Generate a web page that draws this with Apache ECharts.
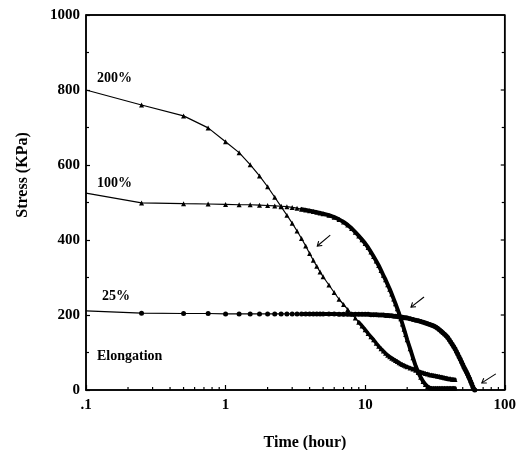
<!DOCTYPE html>
<html><head><meta charset="utf-8">
<script src="https://cdn.jsdelivr.net/npm/echarts@6/dist/echarts.min.js"></script>
<style>html,body{margin:0;padding:0;background:#fff}#c{width:519px;height:450px}</style>
</head><body><div id="c"></div>
<script>
// ---- data (time in hours, stress in KPa) ----
const times = [0.1, 0.25, 0.5, 0.75, 1, 1.25, 1.5, 1.75, 2, 2.25, 2.5, 2.75, 3, 3.25, 3.5, 3.75, 4, 4.25, 4.5, 4.75, 5,
  5.5, 6, 6.5, 7, 7.5, 8, 8.5, 9, 9.5, 10, 10.5, 11, 11.5, 12, 12.5, 13, 13.5, 14, 14.5, 15, 15.5, 16, 16.5, 17, 17.5,
  18, 18.5, 19, 19.5, 20, 21, 22, 23, 24, 25, 26, 27, 28, 29, 30, 31, 32, 33, 34, 35, 36, 37, 38, 39, 40, 41, 42, 43, 44];
const stress200 = [800, 760, 731, 699, 662, 633, 601, 571, 542, 514, 489, 466, 445, 424, 404, 384, 364, 346, 330, 315, 302,
  280, 260, 242, 228, 215, 203, 192, 181, 171, 161, 151, 142, 134, 125, 117, 110, 104, 98, 93, 89, 85, 82, 79, 76, 73,
  70, 68, 66, 64, 62, 59, 56, 53, 50, 48, 46, 44, 43, 41, 40, 39, 38, 37, 36, 35, 34, 33, 32, 31, 30, 30, 29, 28, 28];
const stress100 = [525, 499, 497, 496, 495, 494, 494, 493, 492, 491, 490, 489, 487, 485, 482, 480, 478, 476, 474, 472, 470,
  466, 461, 455, 448, 440, 431, 421, 411, 401, 391, 380, 368, 356, 344, 332, 319, 306, 294, 281, 269, 256, 243, 230, 217, 204,
  190, 176, 162, 148, 134, 110, 86, 64, 47, 34, 23, 15, 9, 6, 5, 5, 5, 5, 5, 5, 5, 5, 5, 5, 5, 5, 5, 5, 5];
const times25 = [0.1, 0.25, 0.5, 0.75, 1, 1.25, 1.5, 1.75, 2, 2.25, 2.5, 2.75, 3, 3.25, 3.5, 3.75, 4, 4.25, 4.5, 4.75, 5,
  5.5, 6, 6.5, 7, 7.5, 8, 8.5, 9, 9.5, 10, 10.5, 11, 11.5, 12, 12.5, 13, 13.5, 14, 14.5, 15, 15.5, 16, 16.5, 17, 17.5,
  18, 18.5, 19, 19.5, 20, 21, 22, 23, 24, 25, 26, 27, 28, 29, 30, 31, 32, 33, 34, 35, 36, 37, 38, 39, 40, 41, 42, 43, 44,
  45, 46, 47, 48, 49, 50, 51, 52, 53, 54, 55, 56, 57, 58, 59, 60, 61];
const stress25 = [211, 205, 204, 204, 203, 203, 203, 203, 203, 203, 203, 203, 203, 203, 203, 203, 203, 203, 203, 203, 203,
  203, 203, 202, 202, 202, 202, 202, 202, 202, 202, 202, 201, 201, 201, 200, 200, 200, 199, 199, 198, 198, 197, 197, 196, 195,
  195, 194, 193, 193, 192, 190, 188, 186, 185, 183, 181, 179, 177, 175, 173, 171, 168, 165, 161, 157, 153, 149, 145, 140, 134, 128, 122, 116, 110,
  103, 96, 89, 82, 75, 68, 61, 55, 49, 43, 36, 30, 23, 16, 9, 3, 0];
const seriesNames = ['200%', '100%', '25%'];
// time from which the recorded points are so dense that the curve reads as a thick band
const denseFrom = [9, 3.5, 3.5];
const xRange = [0.1, 100];
const yRange = [0, 1000];
const xMajorLabels = ['.1', '1', '10', '100'];
const xMinorTicks = [0.2, 0.3, 0.4, 0.5, 0.6, 0.7, 0.8, 0.9, 2, 3, 4, 5, 6, 7, 8, 9, 20, 30, 40, 50, 60, 70, 80, 90];
const yRightTicks = [100, 200, 300, 400, 500, 600, 700, 800, 900];
// arrow annotations: [tailTime, tailStress, headTime, headStress]
const arrows = [[5.62, 413, 4.54, 384], [26.4, 248, 21.3, 221], [86.3, 43, 68.5, 19]];

const FONT = '"Liberation Serif", "Times New Roman", serif';
function pairs(ts, vs) {
  return ts.map((t, i) => i === 0 ? { value: [t, vs[i]], symbol: 'none' } : [t, vs[i]]);
}
function densePairs(ts, vs, from) {
  const out = [];
  ts.forEach((t, i) => { if (t >= from) out.push([t, vs[i]]); });
  return out;
}
const chart = echarts.init(document.getElementById('c'), null, { renderer: 'canvas' });
const lineSeries = (name, ts, vs, sym) => ({
  name, type: 'line', data: pairs(ts, vs), symbol: sym, symbolSize: 5, showSymbol: true,
  lineStyle: { color: '#000', width: 1.2 }, itemStyle: { color: '#000' }, silent: true, clip: false, z: 3
});
const bandSeries = (ts, vs, from, w) => ({
  type: 'line', data: densePairs(ts, vs, from), symbol: 'none', showSymbol: false,
  lineStyle: { color: '#000', width: w, join: 'round', cap: 'round' }, silent: true, clip: false, z: 2
});
// top and right edges of the frame, through the axes
const frameSeries = {
  type: 'line', data: [[xRange[0], yRange[1]], [xRange[1], yRange[1]], [xRange[1], yRange[0]]],
  symbol: 'none', showSymbol: false, silent: true, clip: false, z: 6,
  lineStyle: { color: '#000', width: 1.6 }
};
// short inward ticks drawn through the axes
const tickSeries = (pts, dx, dy, lenFn) => ({
  type: 'custom', silent: true, clip: false, z: 6, data: pts,
  renderItem: (params, api) => {
    const p = api.coord([api.value(0), api.value(1)]);
    const len = lenFn(api.value(0), api.value(1));
    return { type: 'line', shape: { x1: p[0], y1: p[1], x2: p[0] + dx * len, y2: p[1] + dy * len },
      style: { stroke: '#000', lineWidth: 1.2 } };
  }
});
chart.setOption({
  animation: false,
  grid: { left: 86, right: 13, top: 15, bottom: 60, show: true, borderColor: '#000', borderWidth: 1.5 },
  xAxis: {
    type: 'log', logBase: 10, min: xRange[0], max: xRange[1], position: 'bottom',
    axisLine: { show: true, onZero: false, lineStyle: { color: '#000', width: 1.5 } },
    splitLine: { show: false },
    axisTick: { show: true, inside: true, length: 5, lineStyle: { color: '#000', width: 1.2 } },
    minorTick: { show: false },
    axisLabel: { color: '#000', fontFamily: FONT, fontWeight: 'bold', fontSize: 15, margin: 8,
      formatter: v => v < 0.5 ? xMajorLabels[0] : v < 5 ? xMajorLabels[1] : v < 50 ? xMajorLabels[2] : xMajorLabels[3] }
  },
  yAxis: {
    type: 'value', min: yRange[0], max: yRange[1], interval: 200, position: 'left',
    axisLine: { show: true, onZero: false, lineStyle: { color: '#000', width: 1.5 } },
    splitLine: { show: false },
    axisTick: { show: true, inside: true, length: 4, lineStyle: { color: '#000', width: 1.2 } },
    minorTick: { show: true, splitNumber: 2, length: 3, lineStyle: { color: '#000', width: 1.2 } },
    axisLabel: { color: '#000', fontFamily: FONT, fontWeight: 'bold', fontSize: 15, margin: 6, formatter: v => String(v) }
  },
  series: [
    lineSeries(seriesNames[0], times, stress200, 'triangle'),
    lineSeries(seriesNames[1], times, stress100, 'triangle'),
    lineSeries(seriesNames[2], times25, stress25, 'circle'),
    bandSeries(times, stress200, denseFrom[0], 3.5),
    bandSeries(times, stress100, denseFrom[1], 4),
    bandSeries(times25, stress25, denseFrom[2], 4),
    frameSeries,
    tickSeries(xMinorTicks.map(v => [v, yRange[0]]), 0, -1, () => 3),
    tickSeries(yRightTicks.map(v => [xRange[1], v]), -1, 0, (x, y) => (y % 200 === 0 ? 4 : 3))
  ]
});

// annotations anchored to data coordinates
const g = [];
arrows.forEach(a => {
  const t = chart.convertToPixel({ xAxisIndex: 0, yAxisIndex: 0 }, [a[0], a[1]]);
  const h = chart.convertToPixel({ xAxisIndex: 0, yAxisIndex: 0 }, [a[2], a[3]]);
  const ang = Math.atan2(t[1] - h[1], t[0] - h[0]);
  const L = 5, s = 0.6;
  g.push({ type: 'line', shape: { x1: t[0], y1: t[1], x2: h[0], y2: h[1] }, style: { stroke: '#000', lineWidth: 1.1 } });
  g.push({ type: 'polyline', shape: { points: [
    [h[0] + L * Math.cos(ang + s), h[1] + L * Math.sin(ang + s)], [h[0], h[1]],
    [h[0] + L * Math.cos(ang - s), h[1] + L * Math.sin(ang - s)]] },
    style: { stroke: '#000', lineWidth: 1.1, fill: null } });
});
const txt = (text, x, y, size) => ({ type: 'text', x, y,
  style: { text, fill: '#000', font: 'bold ' + size + 'px ' + FONT, verticalAlign: 'middle' } });
g.push(txt(seriesNames[0], 97, 78, 14));
g.push(txt(seriesNames[1], 97, 183, 14));
g.push(txt(seriesNames[2], 102, 296, 14));
g.push(txt('Elongation', 97, 356, 14));
g.push({ type: 'text', x: 305, y: 443,
  style: { text: 'Time (hour)', fill: '#000', font: 'bold 16px ' + FONT, align: 'center', verticalAlign: 'middle' } });
g.push({ type: 'text', x: 23, y: 175, rotation: Math.PI / 2,
  style: { text: 'Stress (KPa)', fill: '#000', font: 'bold 16px ' + FONT, align: 'center', verticalAlign: 'middle' } });
chart.setOption({ graphic: g });
</script></body></html>
